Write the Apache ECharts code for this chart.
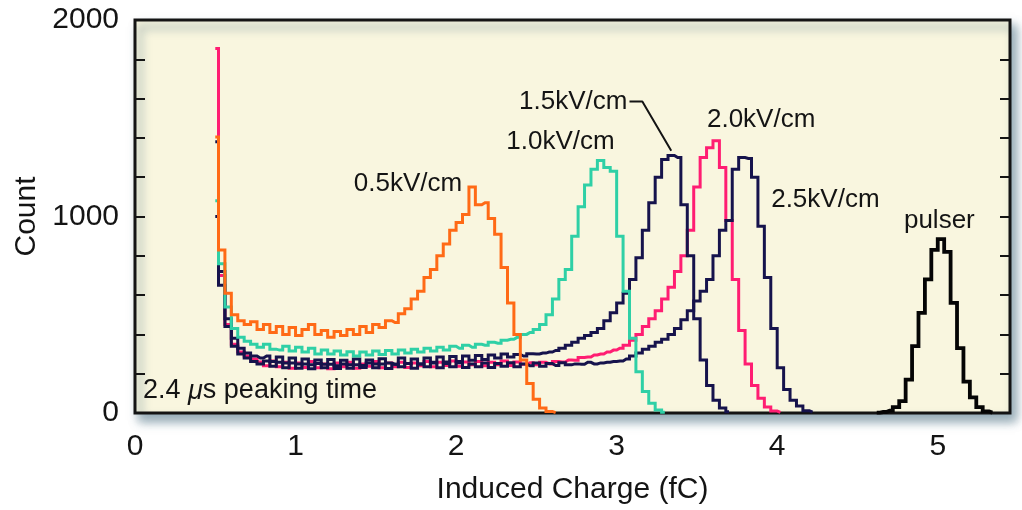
<!DOCTYPE html>
<html>
<head>
<meta charset="utf-8">
<script src="https://cdn.jsdelivr.net/npm/echarts@6/dist/echarts.min.js"></script>
<style>
  html, body { margin: 0; padding: 0; background: #ffffff; }
  #chart { width: 1022px; height: 510px; }
</style>
</head>
<body>
<div id="chart"></div>
<script>
// Pulse-height spectra: counts per 0.04 fC bin, first bin centred at binStart.
const binStart = 0.50;
const binWidth = 0.04;

// 0.5 kV/cm drift field
const counts05 = [
  1405, 830, 610, 500, 470, 450, 465, 425, 450, 410,
  440, 400, 435, 395, 425, 450, 400, 420, 385, 415,
  395, 425, 400, 440, 410, 450, 435, 470, 460, 505,
  530, 580, 620, 690, 730, 800, 860, 930, 970, 1010,
  1150, 1060, 1070, 990, 910, 740, 560, 400, 270, 150,
  70, 25, 8, 2
];
// 1.0 kV/cm
const counts10 = [
  1080, 760, 540, 430, 385, 365, 350, 335, 350, 325,
  320, 340, 315, 335, 310, 330, 300, 320, 300, 315,
  295, 312, 290, 310, 295, 315, 298, 318, 300, 320,
  305, 325, 310, 330, 315, 335, 320, 340, 330, 345,
  335, 350, 345, 360, 355, 370, 375, 385, 400, 410,
  425, 450, 500, 580, 680, 730, 900, 1050, 1160, 1240,
  1285, 1250, 1230, 900, 620, 380, 210, 110, 50, 15,
  4
];
// 1.5 kV/cm
const counts15 = [
  1380, 720, 480, 380, 330, 305, 290, 280, 290, 262,
  285, 255, 280, 250, 275, 245, 270, 248, 272, 240,
  268, 245, 275, 242, 270, 250, 276, 255, 248, 280,
  252, 275, 250, 280, 258, 285, 260, 288, 262, 290,
  268, 292, 272, 295, 280, 300, 285, 298, 290, 302,
  300, 305, 310, 318, 330, 345, 360, 380, 395, 410,
  430, 470, 510, 560, 610, 680, 790, 930, 1070, 1200,
  1290, 1310, 1300, 1060, 800, 480, 270, 140, 65, 25,
  6
];
// 2.0 kV/cm
const counts20 = [
  1855, 700, 450, 350, 310, 290, 275, 260, 240, 265,
  235, 258, 228, 255, 232, 262, 230, 250, 225, 255,
  235, 258, 228, 250, 238, 262, 230, 255, 235, 258,
  232, 255, 240, 262, 236, 258, 242, 265, 238, 260,
  245, 262, 240, 258, 246, 265, 242, 260, 248, 256,
  245, 258, 250, 262, 260, 270, 268, 282, 285, 295,
  300, 310, 320, 330, 345, 370, 400, 440, 480, 520,
  580, 640, 720, 800, 930, 1150, 1300, 1350, 1385, 1250,
  980, 680, 420, 250, 140, 75, 30, 10, 3
];
// 2.5 kV/cm
const counts25 = [
  1000, 650, 440, 340, 300, 280, 262, 250, 265, 238,
  258, 230, 255, 228, 250, 225, 252, 230, 248, 226,
  250, 228, 245, 232, 255, 230, 250, 226, 248, 235,
  252, 228, 250, 235, 255, 230, 252, 236, 256, 232,
  250, 236, 255, 232, 252, 238, 256, 235, 250, 240,
  255, 238, 252, 242, 256, 245, 250, 248, 258, 250,
  255, 258, 262, 265, 275, 290, 305, 325, 340, 360,
  375, 400, 430, 475, 520, 570, 620, 680, 800, 930,
  980, 1240, 1300, 1295, 1200, 950, 690, 430, 230, 120,
  65, 35, 12, 4
];
// test pulser, first bin centred at pulserStart
const pulserStart = 4.62;
const countsPulser = [2, 5, 12, 30, 60, 170, 340, 510, 680, 830, 885, 820, 560, 330, 160, 80, 30, 8, 2];

const xTicks = [0, 1, 2, 3, 4, 5];
const yTickLabels = [0, 1000, 2000];

// annotation anchors, in (fC, count)
const curveLabels = [
  { text: '0.5kV/cm', at: [1.70, 1165] },
  { text: '1.0kV/cm', at: [2.65, 1380] },
  { text: '1.5kV/cm', at: [2.73, 1585] },
  { text: '2.0kV/cm', at: [3.90, 1492] },
  { text: '2.5kV/cm', at: [4.30, 1084] },
  { text: 'pulser',   at: [5.01, 976] }
];
const leader15 = [[3.08, 1585], [3.16, 1585], [3.34, 1334]];
const noteAt = [0.05, 112];

function toPairs(start, counts) {
  return counts.map((c, i) => [+(start + i * binWidth).toFixed(2), c]);
}

const FONT = '"Liberation Sans", Arial, Helvetica, sans-serif';
const INK = '#141414';

function spectrum(name, start, counts, color, width) {
  return {
    name, type: 'line', step: 'middle', data: toPairs(start, counts),
    showSymbol: false, symbol: 'none', silent: true,
    lineStyle: { color, width, join: 'miter' }
  };
}

const chart = echarts.init(document.getElementById('chart'), null, { renderer: 'canvas' });

const yAxisBase = {
  type: 'value', min: 0, max: 2000, interval: 200,
  axisLine: { show: false },
  splitLine: { show: false },
  axisTick: { show: true, inside: true, length: 10, lineStyle: { color: INK, width: 2 } }
};

chart.setOption({
  animation: false,
  backgroundColor: '#ffffff',
  grid: {
    left: 135, right: 12, top: 20, bottom: 97,
    show: true, backgroundColor: '#f9f6df',
    borderColor: INK, borderWidth: 3,
    shadowColor: 'rgba(60, 100, 120, 0.55)', shadowBlur: 10,
    shadowOffsetX: 5, shadowOffsetY: 7
  },
  xAxis: {
    type: 'value', min: 0, max: 5.45, interval: 1,
    axisLine: { show: false }, axisTick: { show: false }, splitLine: { show: false },
    axisLabel: {
      fontSize: 30, fontFamily: FONT, color: INK, margin: 19,
      formatter: v => (xTicks.includes(v) ? String(v) : '')
    },
    name: 'Induced Charge (fC)', nameLocation: 'middle', nameGap: 62,
    nameTextStyle: { fontSize: 30, fontFamily: FONT, color: INK }
  },
  yAxis: [
    Object.assign({}, yAxisBase, {
      position: 'left',
      axisLabel: {
        fontSize: 30, fontFamily: FONT, color: INK, margin: 16,
        formatter: v => (yTickLabels.includes(v) ? String(v) : '')
      },
      name: 'Count', nameLocation: 'middle', nameGap: 92,
      nameTextStyle: { fontSize: 30, fontFamily: FONT, color: INK }
    }),
    Object.assign({}, yAxisBase, { position: 'right', axisLabel: { show: false } })
  ],
  series: [
    spectrum('2.0kV/cm', binStart, counts20, '#ff1d72', 3),
    spectrum('1.5kV/cm', binStart, counts15, '#16134c', 3),
    spectrum('2.5kV/cm', binStart, counts25, '#16134c', 3),
    spectrum('1.0kV/cm', binStart, counts10, '#2fd0a6', 3),
    spectrum('0.5kV/cm', binStart, counts05, '#ff6a16', 3),
    spectrum('pulser', pulserStart, countsPulser, '#050505', 3.8),
    {
      name: 'leader', type: 'line', data: leader15, silent: true,
      showSymbol: false, symbol: 'none',
      lineStyle: { color: INK, width: 2 }
    }
  ]
});

// curve names and the shaping-time note, placed in data coordinates
const graphics = curveLabels.map(l => {
  const p = chart.convertToPixel({ gridIndex: 0 }, l.at);
  return {
    type: 'text', x: p[0], y: p[1], silent: true, z: 50,
    style: {
      text: l.text, fontSize: 26, fontFamily: FONT, fill: INK,
      align: 'center', verticalAlign: 'middle'
    }
  };
});
const np = chart.convertToPixel({ gridIndex: 0 }, noteAt);
graphics.push({
  type: 'text', x: np[0], y: np[1], silent: true, z: 50,
  style: {
    text: '2.4 {mu|\u03bc}s peaking time',
    fontSize: 27, fontFamily: FONT, fill: INK,
    align: 'left', verticalAlign: 'middle',
    rich: { mu: { fontSize: 27, fontFamily: FONT, fontStyle: 'italic', fill: INK } }
  }
});
chart.setOption({ graphic: graphics });
</script>
</body>
</html>
